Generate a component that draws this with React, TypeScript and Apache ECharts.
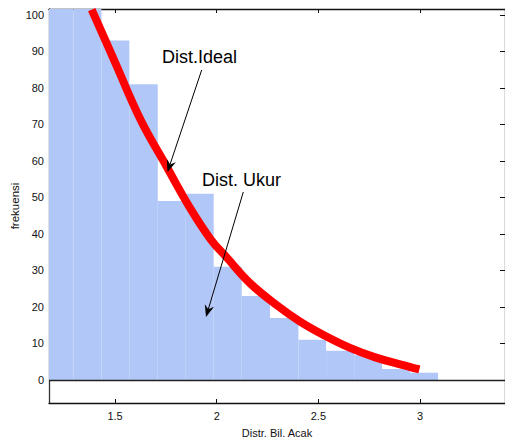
import { useEffect, useRef } from "react";
import * as echarts from "echarts";

// Histogram (measured distribution): bin edges and counts
const binEdges = [1.157, 1.295, 1.433, 1.57, 1.71, 1.848, 1.985, 2.123, 2.262, 2.402, 2.538, 2.676, 2.813, 2.951, 3.089];
const binCounts = [118, 110, 93, 81, 49, 51, 31, 23, 17, 11, 8, 6.8, 3, 2];

// Ideal distribution curve
const idealX = [1.385, 1.5, 1.626, 1.754, 1.87, 1.972, 2.05, 2.164, 2.3, 2.41, 2.53, 2.656, 2.78, 2.902, 2.997];
const idealY = [101.4, 87, 71.2, 58.4, 47, 38.4, 33.5, 26.5, 20.3, 16, 12.2, 8.8, 6.2, 4.3, 2.9];

const xTicks = [1.5, 2, 2.5, 3];
const yTicks = [0, 10, 20, 30, 40, 50, 60, 70, 80, 90, 100];
const xRange = [1.175, 3.418];
const yRange = [-6.3, 101.6];

const xTitle = "Distr. Bil. Acak";
const yTitle = "frekuensi";
const labelIdeal = "Dist.Ideal";
const labelUkur = "Dist. Ukur";

const FONT = '"Liberation Sans", Arial, sans-serif';

function arrow(x1: number, y1: number, x2: number, y2: number) {
  const dx = x2 - x1;
  const dy = y2 - y1;
  const len = Math.sqrt(dx * dx + dy * dy);
  const ux = dx / len;
  const uy = dy / len;
  const nx = -uy;
  const ny = ux;
  const hl = 12;
  const hw = 4.8;
  const bx = x2 - hl * ux;
  const by = y2 - hl * uy;
  const mx = x2 - 8 * ux;
  const my = y2 - 8 * uy;
  return [
    {
      type: "line",
      z: 100,
      shape: { x1, y1, x2: mx, y2: my },
      style: { stroke: "#000", lineWidth: 1 },
    },
    {
      type: "polygon",
      z: 100,
      shape: {
        points: [
          [x2, y2],
          [bx + hw * nx, by + hw * ny],
          [mx, my],
          [bx - hw * nx, by - hw * ny],
        ],
      },
      style: { fill: "#000" },
    },
  ];
}

export default function App() {
  const ref = useRef<HTMLDivElement>(null);
  useEffect(() => {
    if (!ref.current) return;
    const chart = echarts.init(ref.current, undefined, { renderer: "svg" });

    const bins = binCounts.map((c, i) => [binEdges[i], binEdges[i + 1], c]);
    const ideal = idealX.map((x, i) => [x, idealY[i]]);

    const axisLine = { show: true, onZero: false, lineStyle: { color: "#111", width: 1.3 } };

    const option: any = {
      animation: false,
      backgroundColor: "#fff",
      grid: { left: 49, right: 0, top: 9, bottom: 36, containLabel: false, outerBoundsMode: "none" },
      xAxis: [
        {
          type: "value",
          position: "bottom",
          min: xRange[0],
          max: xRange[1],
          axisLine,
          axisTick: { show: true, inside: true, length: 4, customValues: xTicks, lineStyle: { color: "#111" } },
          axisLabel: {
            customValues: xTicks,
            margin: 7,
            fontSize: 11,
            fontFamily: FONT,
            color: "#111",
          },
          splitLine: { show: false },
          name: xTitle,
          nameLocation: "middle",
          nameGap: 24,
          nameMoveOverlap: false,
          nameTextStyle: { fontSize: 11, fontFamily: FONT, color: "#111" },
        },
        {
          type: "value",
          position: "top",
          min: xRange[0],
          max: xRange[1],
          axisLine,
          axisTick: { show: true, inside: true, length: 4, customValues: xTicks, lineStyle: { color: "#111" } },
          axisLabel: { show: false },
          splitLine: { show: false },
        },
      ],
      yAxis: [
        {
          type: "value",
          position: "left",
          min: yRange[0],
          max: yRange[1],
          axisLine: { show: true, onZero: false, lineStyle: { color: "#333", width: 1.3 } },
          axisTick: { show: true, inside: true, length: 4, customValues: yTicks, lineStyle: { color: "#111" } },
          axisLabel: {
            customValues: yTicks,
            margin: 5,
            fontSize: 11,
            fontFamily: FONT,
            color: "#111",
          },
          splitLine: { show: false },
          name: yTitle,
          nameLocation: "middle",
          nameGap: 28,
          nameMoveOverlap: false,
          nameTextStyle: { fontSize: 11.5, fontFamily: FONT, color: "#111" },
        },
        {
          type: "value",
          position: "right",
          min: yRange[0],
          max: yRange[1],
          axisLine,
          axisTick: { show: true, inside: true, length: 5, customValues: yTicks, lineStyle: { color: "#111" } },
          axisLabel: { show: false },
          splitLine: { show: false },
        },
      ],
      series: [
        {
          type: "custom",
          xAxisIndex: 0,
          yAxisIndex: 0,
          data: bins,
          z: 2,
          renderItem: (params: any, api: any) => {
            const p0 = api.coord([api.value(0), 0]);
            const p1 = api.coord([api.value(1), api.value(2)]);
            const rect = echarts.graphic.clipRectByRect(
              { x: p0[0], y: p1[1], width: p1[0] - p0[0], height: p0[1] - p1[1] },
              params.coordSys
            );
            if (!rect) return null;
            return { type: "rect", shape: rect, style: { fill: "#b1c7f8" } };
          },
          markLine: {
            silent: true,
            symbol: ["none", "none"],
            label: { show: false },
            lineStyle: { color: "#222", width: 1.3, type: "solid" },
            data: [{ yAxis: 0 }],
          },
        },
        {
          type: "line",
          xAxisIndex: 0,
          yAxisIndex: 0,
          data: ideal,
          smooth: 0.4,
          symbol: "none",
          z: 5,
          lineStyle: { color: "#ff0000", width: 8, cap: "butt" },
        },
      ],
      graphic: [
        {
          type: "text",
          z: 100,
          style: {
            text: labelIdeal,
            x: 162,
            y: 57,
            verticalAlign: "middle",
            align: "left",
            font: `18px ${FONT}`,
            fill: "#000",
          },
        },
        {
          type: "text",
          z: 100,
          style: {
            text: labelUkur,
            x: 202,
            y: 180,
            verticalAlign: "middle",
            align: "left",
            font: `18px ${FONT}`,
            fill: "#000",
          },
        },
        ...arrow(201.7, 70, 167.5, 172),
        ...arrow(243.3, 192, 206, 317),
      ],
    };
    chart.setOption(option);
    return () => chart.dispose();
  }, []);
  return (
    <div
      ref={ref}
      style={{ position: "fixed", left: 0, top: 0, width: 505, height: 439, background: "#fff" }}
    />
  );
}
